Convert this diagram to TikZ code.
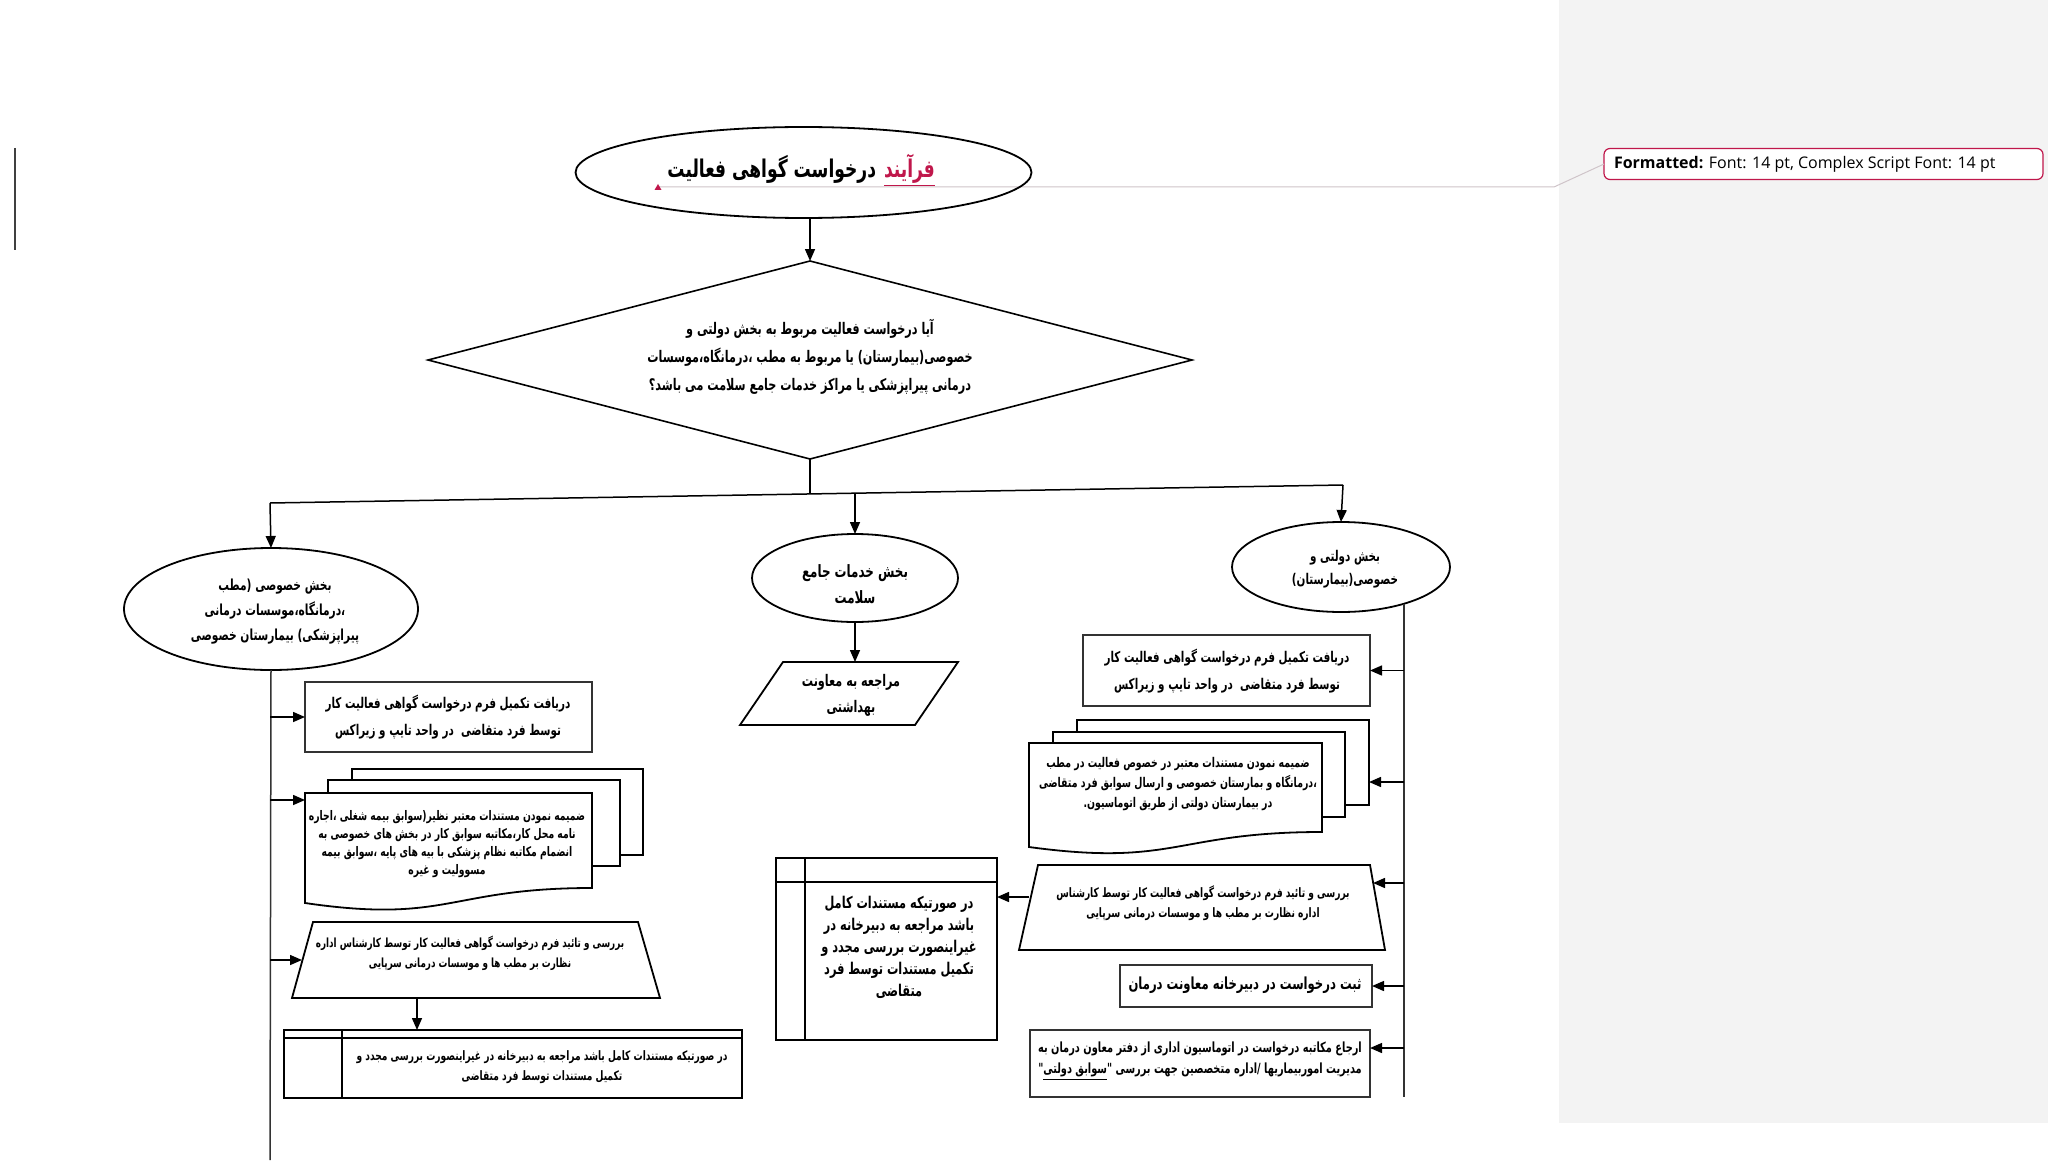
\documentclass[tikz,border=0pt]{standalone}
\usepackage{fontspec}
\setmainfont{DejaVu Sans}
\newfontfamily\arabicfont[Script=Arabic, FakeStretch=0.7]{DejaVu Sans}
\newfontfamily\uifont{Open Sans}
\TeXXeTstate=1
\usetikzlibrary{shapes.geometric,arrows.meta,calc}
\definecolor{crim}{HTML}{C0174B}
\definecolor{panel}{HTML}{F3F3F3}
\definecolor{cmtline}{HTML}{CFC4C9}
\newcommand\fa[1]{\beginR #1\endR}
\newcommand\fs[2]{\arabicfont\bfseries\fontsize{#1}{#2}\selectfont}
\newcommand\ulbox[2]{\vtop{\hbox{#2}\kern#1\hrule height 0.5pt}}
\tikzset{
  every node/.style={inner sep=0pt, outer sep=0pt},
  tx/.style={align=center},
  shp/.style={line width=0.9pt, draw=black},
  boxs/.style={draw=black!80, line width=0.75pt, rectangle},
  ell/.style={ellipse, draw=black, line width=0.9pt},
  conn/.style={line width=0.75pt, draw=black},
  arr/.style={line width=0.75pt, draw=black, -{Triangle[length=6pt,width=5pt]}},
}
\begin{document}
\begin{tikzpicture}[x=0.5pt,y=-0.5pt]
\useasboundingbox (0,0) rectangle (2048,1166);
\fill[white] (0,0) rectangle (2048,1166);
\fill[panel] (1559,0) rectangle (2048,1123);
% change bar
\coordinate (cbT) at (15,148);
\coordinate (cbB) at (15,250);
\draw[line width=1.3pt, black!75] (cbT) -- (cbB);

% comment balloon
\node[draw=crim, fill=white, rounded corners=3pt, line width=0.6pt, minimum width=219.5pt, minimum height=15.5pt] (bal) at (1823.5,164) {};
\node[anchor=west, font=\uifont\fontsize{8}{10}\selectfont] (baltx) at (1614,164) {\textbf{Formatted:} Font: 14 pt, Complex Script Font: 14 pt};
\coordinate (mark) at (658,187);
\coordinate (bend) at (1554,187);
\draw[cmtline, line width=0.5pt] (mark) -- (bend) -- (bal.west);
\fill[crim] (654.5,190) -- (661.5,190) -- (658,184) -- cycle;

% title
\node[ell, minimum width=228pt, minimum height=45.5pt] (title) at (803.5,172.5) {};
\node[anchor=base east, font=\fs{12.2}{15}] (titletx) at (876,177) {\fa{درخواست گواهی فعالیت}};
\node[anchor=base west, font=\fs{12.2}{15}, text=crim] (titlekw) at (884,177) {\ulbox{1.2pt}{فرآیند}};

% decision
\node[diamond, draw=black, line width=0.8pt, minimum width=382pt, minimum height=99pt, aspect=3.86] (dia) at (810,360) {};
\node[tx, font=\fs{8}{14}] (diatx) at (810,357) {\fa{آیا درخواست فعالیت مربوط به بخش دولتی و}\\ \fa{خصوصی(بیمارستان) یا مربوط به مطب ،درمانگاه،موسسات}\\ \fa{درمانی پیراپزشکی یا مراکز خدمات جامع سلامت می باشد؟}};
\draw[arr] (dia.north |- title.south) -- (dia.north);

% branches
\coordinate (jn) at (810,494);
\coordinate (brL) at (270,503);
\coordinate (brR) at (1343,485);
\coordinate (jm) at (855,493);
\draw[conn] (dia.south) -- (jn);
\draw[conn] (brL) -- (brR);

% three category ellipses
\node[ell, minimum width=147pt, minimum height=61pt] (lell) at (271,609) {};
\node[tx, font=\fs{7.6}{12.5}] (lelltx) at (275,612) {\fa{بخش خصوصی (مطب}\\ \fa{،درمانگاه،موسسات درمانی}\\ \fa{پیراپزشکی) بیمارستان خصوصی}};
\node[ell, minimum width=103pt, minimum height=44pt] (mell) at (855,578) {};
\node[tx, font=\fs{8.5}{13}] (melltx) at (855,584) {\fa{بخش خدمات جامع}\\ \fa{سلامت}};
\node[ell, minimum width=109pt, minimum height=45pt] (rell) at (1341,567) {};
\node[tx, font=\fs{7.4}{11.5}] (relltx) at (1345,569) {\fa{بخش دولتی و}\\ \fa{خصوصی(بیمارستان)}};
\draw[arr] (brL) -- (lell.north);
\draw[arr] (jm) -- (mell.north);
\draw[arr] (brR) -- (rell.north);

% middle branch
\coordinate (mparT) at (855,662);
\draw[shp] (783,662) -- (958,662) -- (915,725) -- (740,725) -- cycle;
\node[tx, font=\fs{8}{13}] (mpartx) at (851,695) {\fa{مراجعه به معاونت}\\ \fa{بهداشتی}};
\draw[arr] (mell.south) -- (mparT);

% ===== right column =====
\coordinate (rvT) at (1404,604);
\coordinate (rvB) at (1404,1097);
\draw[conn, draw=black!80] (rvT) -- (rvB);

\node[boxs, minimum width=143.5pt, minimum height=35.5pt] (rb1) at (1226.5,670.5) {};
\node[tx, font=\fs{7.4}{13.5}] (rb1tx) at (1227,671) {\fa{دریافت تکمیل فرم درخواست گواهی فعالیت کار}\\ \fa{توسط فرد متقاضی\ \ در واحد تایپ و زیراکس}};
\draw[arr] (rvT |- rb1.east) -- (rb1.east);

\draw[shp] (1077,732) -- (1077,720) -- (1369,720) -- (1369,805) -- (1345,805);
\draw[shp] (1053,743) -- (1053,732) -- (1345,732) -- (1345,817) -- (1322,817);
\draw[shp] (1029,743) -- (1322,743) -- (1322,832) .. controls (1175.5,832) and (1175.5,867) .. (1029,847) -- cycle;
\node[tx, font=\fs{6.7}{10}] (rmdtx) at (1178,784) {\fa{ضمیمه نمودن مستندات معتبر در خصوص فعالیت در مطب}\\ \fa{،درمانگاه و بمارستان خصوصی و ارسال سوابق فرد متقاضی}\\ \fa{در بیمارستان دولتی از طریق اتوماسیون.}};
\coordinate (rmdE) at (1369,782);
\draw[arr] (rvT |- rmdE) -- (rmdE);

\draw[shp] (1038,865) -- (1370,865) -- (1385,950) -- (1019,950) -- cycle;
\node[tx, font=\fs{6.5}{10}] (rtrtx) at (1203,903) {\fa{بررسی و تائید فرم درخواست گواهی فعالیت کار توسط کارشناس}\\ \fa{اداره نظارت بر مطب ها و موسسات درمانی سرپایی}};
\coordinate (rtrE) at (1373,883);
\coordinate (rtrW) at (1029,897);
\draw[arr] (rvT |- rtrE) -- (rtrE);

\node[boxs, minimum width=126pt, minimum height=21pt] (rb3) at (1246,986) {};
\node[font=\fs{8.3}{13}] (rb3tx) at (1245,985) {\fa{ثبت درخواست در دبیرخانه معاونت درمان}};
\draw[arr] (rvT |- rb3.east) -- (rb3.east);

\node[boxs, minimum width=170pt, minimum height=33.5pt] (rb4) at (1200,1063.5) {};
\node[tx, font=\fs{7}{10.5}] (rb4tx) at (1200,1061) {\fa{ارجاع مکاتبه درخواست در اتوماسیون اداری از دفتر معاون درمان به}\\ \fa{مدیریت اموربیماریها /اداره متخصصین جهت بررسی "\ulbox{1pt}{\beginR سوابق دولتی\endR}"}};
\coordinate (rb4E) at (1370,1048);
\draw[arr] (rvT |- rb4E) -- (rb4E);

% middle storage box
\node[draw=black, line width=0.9pt, minimum width=110.5pt, minimum height=91pt] (mst) at (886.5,949) {};
\coordinate (mstV) at (805,858);
\coordinate (mstH) at (776,882);
\draw[shp] (mstV) -- (mstV |- mst.south);
\draw[shp] (mstH) -- (mstH -| mst.east);
\node[tx, font=\fs{8.1}{11}] (msttx) at (899,947) {\fa{در صورتیکه مستندات کامل}\\ \fa{باشد مراجعه به دبیرخانه در}\\ \fa{غیراینصورت بررسی مجدد و}\\ \fa{تکمیل مستندات توسط فرد}\\ \fa{متقاضی}};
\draw[arr] (rtrW) -- (rtrW -| mst.east);

% ===== left column =====
\coordinate (lvB) at (270,1160);
\draw[conn, draw=black!80] (lell.south) -- (lvB);

\node[boxs, minimum width=143.5pt, minimum height=35pt] (lb1) at (448.5,717) {};
\node[tx, font=\fs{7.4}{13.5}] (lb1tx) at (448,717) {\fa{دریافت تکمیل فرم درخواست گواهی فعالیت کار}\\ \fa{توسط فرد متقاضی\ \ در واحد تایپ و زیراکس}};
\draw[arr] (lb1.west -| lvB) -- (lb1.west);

\draw[shp] (352,780) -- (352,769) -- (643,769) -- (643,855) -- (620,855);
\draw[shp] (328,793) -- (328,780) -- (620,780) -- (620,866) -- (592,866);
\draw[shp] (305,793) -- (592,793) -- (592,888) .. controls (448.5,888) and (448.5,924) .. (305,903) -- cycle;
\node[tx, font=\fs{6.6}{9}] (lmdtx) at (447,844) {\fa{ضمیمه نمودن مستندات معتبر نظیر(سوابق بیمه شغلی ،اجاره}\\ \fa{نامه محل کار،مکاتبه سوابق کار در بخش های خصوصی به}\\ \fa{انضمام مکاتبه نظام پزشکی با بیه های پایه ،سوابق بیمه}\\ \fa{مسوولیت و غیره}};
\coordinate (lmdW) at (305,800);
\draw[arr] (lmdW -| lvB) -- (lmdW);

\draw[shp] (313,922) -- (638,922) -- (660,998) -- (292,998) -- cycle;
\node[tx, font=\fs{6.3}{10}] (ltrtx) at (470,953) {\fa{بررسی و تائید فرم درخواست گواهی فعالیت کار توسط کارشناس اداره}\\ \fa{نظارت بر مطب ها و موسسات درمانی سرپایی}};
\coordinate (ltrW) at (302,960);
\coordinate (ltrS) at (417,998);
\draw[arr] (ltrW -| lvB) -- (ltrW);

\node[draw=black, line width=0.9pt, minimum width=229pt, minimum height=34pt] (lst) at (513,1064) {};
\coordinate (lstV) at (342,1030);
\coordinate (lstH) at (284,1038);
\draw[shp] (lstV) -- (lstV |- lst.south);
\draw[shp] (lstH) -- (lstH -| lst.east);
\node[tx, font=\fs{6.5}{10}] (lsttx) at (542,1067) {\fa{در صورتیکه مستندات کامل باشد مراجعه به دبیرخانه در غیراینصورت بررسی مجدد و}\\ \fa{تکمیل مستندات توسط فرد متقاضی}};
\draw[arr] (ltrS) -- (ltrS |- lst.north);
\end{tikzpicture}
\end{document}
